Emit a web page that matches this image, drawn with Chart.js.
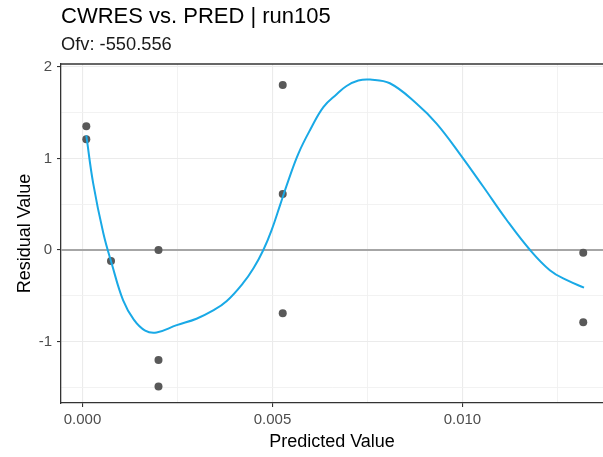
<!DOCTYPE html>
<html>
<head>
<meta charset="utf-8">
<title>CWRES vs. PRED | run105</title>
<script src="https://cdn.jsdelivr.net/npm/chart.js@4"></script>
<style>
  html, body { margin: 0; padding: 0; background: #ffffff; }
  #wrap { width: 603px; height: 457px; }
</style>
</head>
<body>
<div id="wrap"><canvas id="chart" width="603" height="457"></canvas></div>
<script>
/* ─── Data ───────────────────────────────────────────────── */
const TITLE    = 'CWRES vs. PRED | run105';
const SUBTITLE = 'Ofv: -550.556';

// observed points (PRED, CWRES)
const PRED  = [0.0001, 0.0001, 0.00075, 0.002, 0.002, 0.002, 0.00527, 0.00527, 0.00527, 0.01318, 0.01318];
const CWRES = [1.35, 1.21, -0.12, 0.0, -1.2, -1.49, 1.80, 0.61, -0.69, -0.03, -0.79];

// loess smooth
const SMOOTH_X = [0.0001, 0.00028, 0.00055, 0.00077, 0.00107, 0.00135, 0.00165, 0.00195, 0.00248,
                  0.003, 0.00344, 0.00379, 0.00423, 0.0045, 0.00476, 0.00498, 0.0052, 0.00542,
                  0.00568, 0.00599, 0.00634, 0.00669, 0.00695, 0.00726, 0.00757, 0.00809, 0.00879,
                  0.00932, 0.00993, 0.01055, 0.01116, 0.01178, 0.0123, 0.01275, 0.0132];
const SMOOTH_Y = [1.25, 0.73, 0.18, -0.15, -0.55, -0.76, -0.88, -0.90, -0.82,
                  -0.75, -0.66, -0.56, -0.36, -0.20, 0.0, 0.22, 0.49, 0.76,
                  1.05, 1.31, 1.56, 1.70, 1.79, 1.85, 1.86, 1.82, 1.60,
                  1.38, 1.05, 0.69, 0.33, 0.0, -0.22, -0.33, -0.41];

const REF_Y = 0;

// axis limits and ticks
const X_MIN = -0.000566, X_MAX = 0.0137;
const Y_MIN = -1.67,     Y_MAX = 2.03;
const X_MAJOR = [0, 0.005, 0.01];
const X_MINOR = [0.0025, 0.0075, 0.0125];
const Y_MAJOR = [-1, 0, 1, 2];
const Y_MINOR = [-1.5, -0.5, 0.5, 1.5];

/* ─── Style ──────────────────────────────────────────────── */
const FONT      = '"Liberation Sans", Arial, sans-serif';
const POINT_COL = '#595959';
const LINE_COL  = '#19a9e6';
const GRID_MAJ  = '#ebebeb';
const GRID_MIN  = '#f0f0f0';
const AXIS_COL  = '#333333';
const TICK_TXT  = '#4d4d4d';

const isMajor = (list, v) => list.some(m => Math.abs(m - v) < 1e-9);

const mkTicks = (major, minor) => scale => {
  scale.ticks = [...major, ...minor].sort((a, b) => a - b).map(v => ({ value: v }));
};

const gridFor = major => ({
  color:     ctx => isMajor(major, ctx.tick.value) ? GRID_MAJ : GRID_MIN,
  lineWidth: ctx => isMajor(major, ctx.tick.value) ? 1.1 : 0.9,
  tickColor: ctx => isMajor(major, ctx.tick.value) ? AXIS_COL : 'rgba(0,0,0,0)',
  tickLength: 4,
  tickWidth: 1.1,
});

/* ─── Title + panel top border ───────────────────────────── */
const headerPlugin = {
  id: 'header',
  afterDatasetsDraw(chart) {
    const { ctx, chartArea: a } = chart;
    ctx.save();
    ctx.strokeStyle = AXIS_COL;
    ctx.lineWidth = 1.3;
    ctx.beginPath();
    ctx.moveTo(a.left, a.top);
    ctx.lineTo(a.right, a.top);
    ctx.stroke();
    ctx.restore();
  },
  afterDraw(chart) {
    const { ctx, chartArea: a } = chart;
    ctx.save();
    ctx.textAlign = 'left';
    ctx.textBaseline = 'alphabetic';
    ctx.fillStyle = '#000000';
    ctx.font = `22px ${FONT}`;
    ctx.fillText(TITLE, a.left, 23);
    ctx.fillStyle = '#1a1a1a';
    ctx.font = `18.3px ${FONT}`;
    ctx.fillText(SUBTITLE, a.left, 50);
    ctx.restore();
  },
};

/* ─── Chart ──────────────────────────────────────────────── */
new Chart(document.getElementById('chart'), {
  type: 'scatter',
  data: {
    datasets: [
      {
        type: 'line',
        label: 'loess',
        data: SMOOTH_X.map((x, i) => ({ x, y: SMOOTH_Y[i] })),
        borderColor: LINE_COL,
        borderWidth: 2,
        pointRadius: 0,
        tension: 0.4,
        fill: false,
        order: 0,
      },
      {
        label: 'CWRES',
        data: PRED.map((x, i) => ({ x, y: CWRES[i] })),
        backgroundColor: POINT_COL,
        borderColor: POINT_COL,
        borderWidth: 0,
        pointRadius: 4,
        order: 1,
      },
      {
        type: 'line',
        label: 'zero',
        data: [{ x: X_MIN, y: REF_Y }, { x: X_MAX, y: REF_Y }],
        borderColor: '#a6a6a6',
        borderWidth: 2,
        pointRadius: 0,
        order: 2,
      },
    ],
  },
  options: {
    responsive: false,
    animation: false,
    layout: { autoPadding: false, padding: { top: 64, left: 0, right: 0, bottom: 0 } },
    plugins: {
      legend: { display: false },
      tooltip: { enabled: false },
      title: { display: false },
    },
    scales: {
      x: {
        type: 'linear',
        min: X_MIN, max: X_MAX,
        afterBuildTicks: mkTicks(X_MAJOR, X_MINOR),
        afterFit: s => { s.height = 54; s.paddingLeft = 0; s.paddingRight = 0; },
        grid: gridFor(X_MAJOR),
        border: { display: true, color: AXIS_COL, width: 1.3 },
        ticks: {
          autoSkip: false, maxRotation: 0, padding: 4,
          color: TICK_TXT, font: { family: FONT, size: 15 },
          callback: v => isMajor(X_MAJOR, v) ? v.toFixed(3) : '',
        },
        title: {
          display: true, text: 'Predicted Value', color: '#000',
          font: { family: FONT, size: 18, lineHeight: 1 },
          padding: { top: 0, bottom: 6 },
        },
      },
      y: {
        type: 'linear',
        min: Y_MIN, max: Y_MAX,
        afterBuildTicks: mkTicks(Y_MAJOR, Y_MINOR),
        afterFit: s => { s.width = 61; s.paddingTop = 0; s.paddingBottom = 0; },
        grid: gridFor(Y_MAJOR),
        border: { display: true, color: AXIS_COL, width: 1.3 },
        ticks: {
          autoSkip: false, padding: 5,
          color: TICK_TXT, font: { family: FONT, size: 15 },
          callback: v => isMajor(Y_MAJOR, v) ? String(v) : '',
        },
        title: {
          display: true, text: 'Residual Value', color: '#000',
          font: { family: FONT, size: 18, lineHeight: 1 },
          padding: { top: 16, bottom: 0 },
        },
      },
    },
  },
  plugins: [headerPlugin],
});
</script>
</body>
</html>
